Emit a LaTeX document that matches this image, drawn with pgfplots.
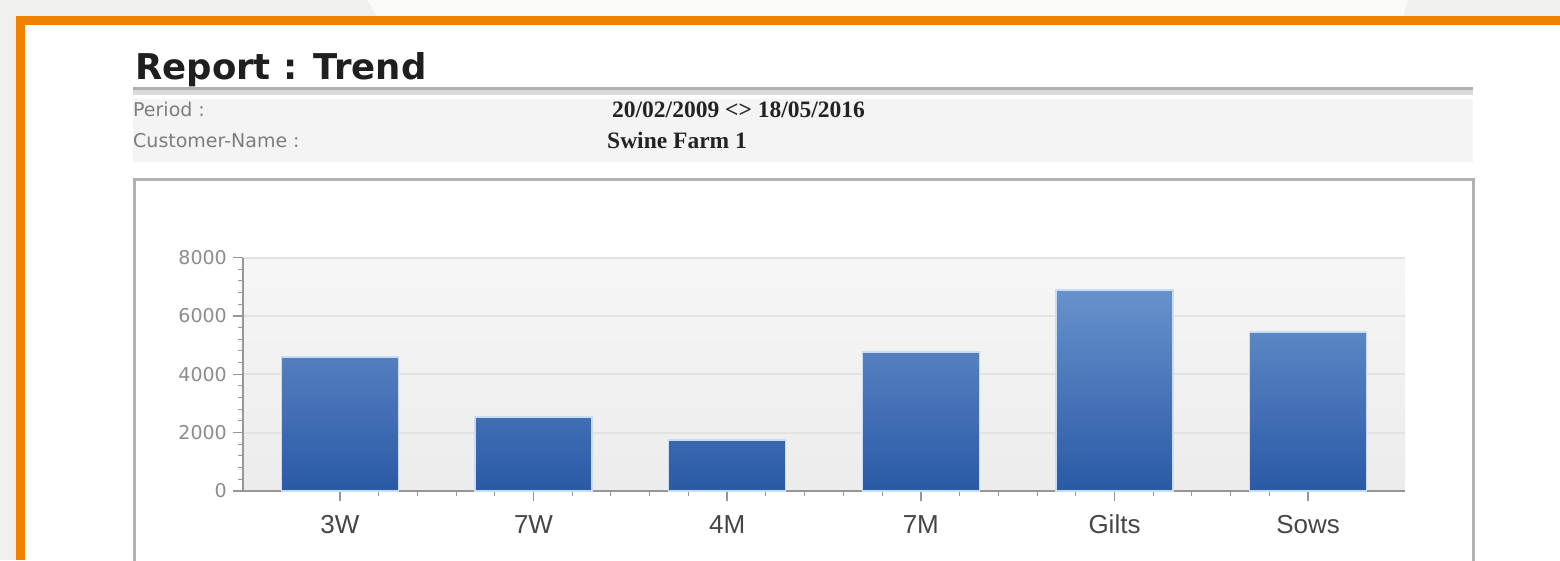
\documentclass[border=0pt]{standalone}
\usepackage{fontspec}
\setmainfont{DejaVu Sans}
\newfontfamily\dejavu{DejaVu Sans}
\newfontfamily\libsans{Liberation Sans}
\newfontfamily\libserif{Liberation Serif}
\usepackage{pgfplots}
\pgfplotsset{compat=1.18}
\definecolor{orangeframe}{RGB}{239,131,0}
\definecolor{bgout}{RGB}{240,240,239}
\definecolor{bglight}{RGB}{250,250,249}
\definecolor{sepdark}{RGB}{175,175,175}
\definecolor{seplight}{RGB}{218,218,218}
\definecolor{band}{RGB}{244,244,244}
\definecolor{boxgray}{RGB}{178,178,178}
\definecolor{labelgray}{RGB}{125,125,125}
\definecolor{valdark}{RGB}{35,35,35}
\definecolor{axisgray}{RGB}{150,150,150}
\definecolor{gridgray}{RGB}{226,226,226}
\definecolor{ticklab}{RGB}{140,140,140}
\definecolor{xlab}{RGB}{70,70,70}
\definecolor{bartop}{RGB}{104,146,204}
\definecolor{barbot}{RGB}{42,89,166}
\definecolor{barhalo}{RGB}{200,220,245}
\definecolor{plottop}{RGB}{246,246,246}
\definecolor{plotbot}{RGB}{236,236,236}
\begin{document}
\begin{tikzpicture}[x=1pt,y=1pt]
\useasboundingbox (0,0) rectangle (1560,560);
\clip (0,0) rectangle (1560,560);
\fill[bgout] (0,0) rectangle (1560,560);
\fill[bglight] (367,560) -- (1408,560) -- (1403,544) -- (377,544) -- cycle;
\fill[orangeframe] (16,0) rectangle (1560,544);
\fill[white] (25,0) rectangle (1560,535);
% title
\node[anchor=base west, inner sep=0pt, font=\fontsize{35.5}{40}\selectfont\dejavu\bfseries, text=black!88] at (135,480) {Report : Trend};
\fill[sepdark] (133,470) rectangle (1473,473);
\fill[seplight] (133,465) rectangle (1473,470);
\fill[band] (133,398) rectangle (1473,461);
\node[anchor=base west, inner sep=0pt, font=\fontsize{19}{22}\selectfont\dejavu, text=labelgray] at (133,443) {Period :};
\node[anchor=base west, inner sep=0pt, font=\fontsize{19}{22}\selectfont\dejavu, text=labelgray] at (133,412) {Customer-Name :};
\node[anchor=base west, inner sep=0pt, font=\fontsize{23.5}{26}\selectfont\libserif\bfseries, text=valdark] at (612,442) {20/02/2009 <> 18/05/2016};
\node[anchor=base west, inner sep=0pt, font=\fontsize{23.5}{26}\selectfont\libserif\bfseries, text=valdark] at (607,411) {Swine Farm 1};
% chart box
\draw[boxgray, line width=3] (134.5,-20) -- (134.5,380.5) -- (1473.5,380.5) -- (1473.5,-20);
\begin{axis}[
  at={(243pt,69pt)}, anchor=south west,
  scale only axis, width=1162pt, height=233.5pt,
  ybar, bar width=117pt,
  xmin=-0.5, xmax=5.5, ymin=0, ymax=8000,
  xtick={0,1,2,3,4,5},
  xticklabels={3W,7W,4M,7M,Gilts,Sows},
  ytick={0,2000,4000,6000,8000},
  minor x tick num=4, minor y tick num=4,
  axis lines*=left,
  axis line style={axisgray, line width=2pt},
  tick align=outside,
  major tick length=10pt, minor tick length=5pt,
  tick style={axisgray, line width=1.5pt},
  minor tick style={line width=1pt},
  ymajorgrids, grid style={gridgray, line width=2pt},
  axis background/.style={top color=plottop, bottom color=plotbot},
  yticklabel style={font=\fontsize{19}{22}\selectfont\dejavu, text=ticklab, inner sep=0pt, xshift=-6pt},
  xticklabel style={font=\fontsize{26}{30}\selectfont\libsans, text=xlab, anchor=base, inner sep=0pt, yshift=-32pt},
  /pgf/number format/1000 sep={},
  /pgf/number format/assume math mode=true,
]
\addplot[draw=barhalo, line width=1.5pt, top color=bartop, bottom color=barbot]
  coordinates {(0,4590) (1,2530) (2,1750) (3,4760) (4,6880) (5,5440)};
\end{axis}
\end{tikzpicture}
\end{document}
